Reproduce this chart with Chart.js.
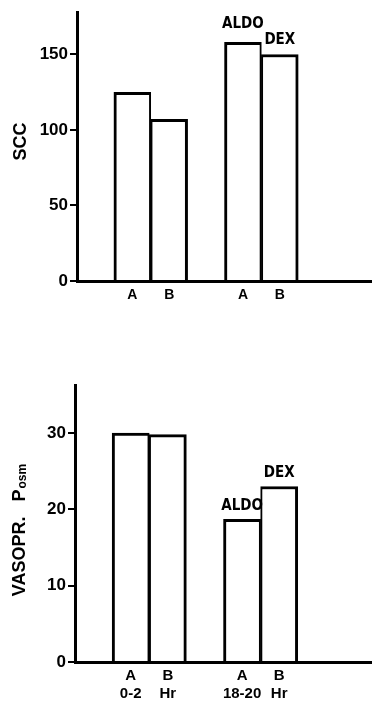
<!DOCTYPE html>
<html>
<head>
<meta charset="utf-8">
<script src="https://cdn.jsdelivr.net/npm/chart.js@4.4.0/dist/chart.umd.min.js"></script>
<style>
    html, body { margin: 0; padding: 0; background: #fff; }
    .panel { position: relative; width: 372px; }
    #top { height: 315px; }
    #bottom { height: 387px; }
</style>
</head>
<body>
<div class="panel" id="top"><canvas id="sccChart"></canvas></div>
<div class="panel" id="bottom"><canvas id="vasoChart"></canvas></div>
<script>
// Blank slots make the gaps around the two pairs of bars
const sccCategories = ['', 'A', 'B', '', 'A', 'B', '', ''];
const sccValues = [null, 125, 107, null, 158, 150, null, null];
const sccNotes = ['', '', '', '', 'ALDO', 'DEX', '', ''];
const sccTicks = [0, 50, 100, 150];

const vasoCategories = ['', ['A', '0-2'], ['B', 'Hr'], '', ['A', '18-20'], ['B', 'Hr'], '', ''];
const vasoValues = [null, 30, 29.8, null, 18.7, 23, null, null];
const vasoNotes = ['', '', '', '', 'ALDO', 'DEX', '', ''];
const vasoTicks = [0, 10, 20, 30];

const NOTE_FONT = "'DejaVu Sans Condensed', 'Liberation Sans Narrow', sans-serif";
const TICK_FONT = "'Liberation Sans', 'DejaVu Sans', sans-serif";

// Labels written above the treated bars
const barNotes = {
    id: 'barNotes',
    afterDatasetsDraw(chart, args, opts) {
        const ctx = chart.ctx;
        const meta = chart.getDatasetMeta(0);
        ctx.save();
        ctx.font = opts.font;
        ctx.fillStyle = '#000';
        ctx.textAlign = 'center';
        ctx.textBaseline = 'bottom';
        opts.notes.forEach((note, i) => {
            if (!note) return;
            const bar = meta.data[i];
            const gap = (opts.gaps && opts.gaps[note]) || 6;
            ctx.fillText(note, bar.x, bar.y - gap);
        });
        ctx.restore();
    }
};

// Rotated y title, with optional subscript
const sideTitle = {
    id: 'sideTitle',
    afterDraw(chart, args, opts) {
        const { ctx, chartArea } = chart;
        ctx.save();
        ctx.translate(opts.x, (chartArea.top + chartArea.bottom) / 2 + opts.shift);
        ctx.rotate(-Math.PI / 2);
        ctx.fillStyle = '#000';
        ctx.textBaseline = 'middle';
        ctx.textAlign = 'left';
        ctx.font = opts.font;
        const mainW = ctx.measureText(opts.text).width;
        let subW = 0;
        if (opts.sub) {
            ctx.font = opts.subFont;
            subW = ctx.measureText(opts.sub).width;
        }
        const start = -(mainW + subW) / 2;
        ctx.font = opts.font;
        ctx.fillText(opts.text, start, 0);
        if (opts.sub) {
            ctx.font = opts.subFont;
            ctx.fillText(opts.sub, start + mainW + 1, 3);
        }
        ctx.restore();
    }
};

function makeChart(canvasId, cfg) {
    return new Chart(document.getElementById(canvasId), {
        type: 'bar',
        data: {
            labels: cfg.labels,
            datasets: [{
                data: cfg.values,
                backgroundColor: '#fff',
                borderColor: '#000',
                // first bar of each pair / second bar of each pair
                borderWidth: c => (c.dataIndex % 3 === 1)
                    ? { top: 3, left: 3, right: 2, bottom: 0 }
                    : { top: 3, left: 2, right: 3, bottom: 0 },
                barPercentage: 1,
                categoryPercentage: 1
            }]
        },
        options: {
            responsive: true,
            maintainAspectRatio: false,
            animation: false,
            events: [],
            layout: { padding: { top: cfg.padTop, left: 0, right: 0, bottom: 0 } },
            plugins: {
                legend: { display: false },
                tooltip: { enabled: false },
                barNotes: { notes: cfg.notes, gaps: cfg.noteGaps, font: 'bold 15px ' + NOTE_FONT },
                sideTitle: cfg.title
            },
            scales: {
                x: {
                    grid: { display: false, drawTicks: false },
                    border: { color: '#000', width: 3 },
                    ticks: {
                        color: '#000',
                        autoSkip: false,
                        maxRotation: 0,
                        padding: cfg.xPad,
                        font: { family: TICK_FONT, weight: 'bold', size: cfg.xFont, lineHeight: 1.2 }
                    },
                    afterFit: s => { s.height = cfg.xHeight; }
                },
                y: {
                    min: 0,
                    max: cfg.yMax,
                    afterBuildTicks: s => { s.ticks = cfg.ticks.map(v => ({ value: v })); },
                    afterFit: s => { s.width = cfg.axisLeft; },
                    grid: { drawOnChartArea: false, drawTicks: true, tickLength: 7, color: '#000', lineWidth: 2 },
                    border: { color: '#000', width: 3 },
                    ticks: {
                        color: '#000',
                        padding: 2,
                        font: { family: TICK_FONT, weight: 'bold', size: 17 }
                    }
                }
            }
        },
        plugins: [barNotes, sideTitle]
    });
}

document.addEventListener('DOMContentLoaded', () => {
    makeChart('sccChart', {
        labels: sccCategories,
        values: sccValues,
        notes: sccNotes,
        noteGaps: { ALDO: 11, DEX: 7 },
        ticks: sccTicks,
        yMax: 178,
        axisLeft: 77,
        padTop: 12,
        xHeight: 34,
        xPad: 6,
        xFont: 14,
        title: { text: 'SCC', x: 21, shift: -5, font: 'bold 18px ' + TICK_FONT }
    });

    makeChart('vasoChart', {
        labels: vasoCategories,
        values: vasoValues,
        notes: vasoNotes,
        noteGaps: { ALDO: 6, DEX: 6 },
        ticks: vasoTicks,
        yMax: 36.3,
        axisLeft: 75,
        padTop: 70,
        xHeight: 40,
        xPad: 5,
        xFont: 15,
        title: {
            text: 'VASOPR.   P', sub: 'osm', x: 20, shift: 7,
            font: 'bold 18px ' + TICK_FONT, subFont: 'bold 12px ' + TICK_FONT
        }
    });
});
</script>
</body>
</html>
